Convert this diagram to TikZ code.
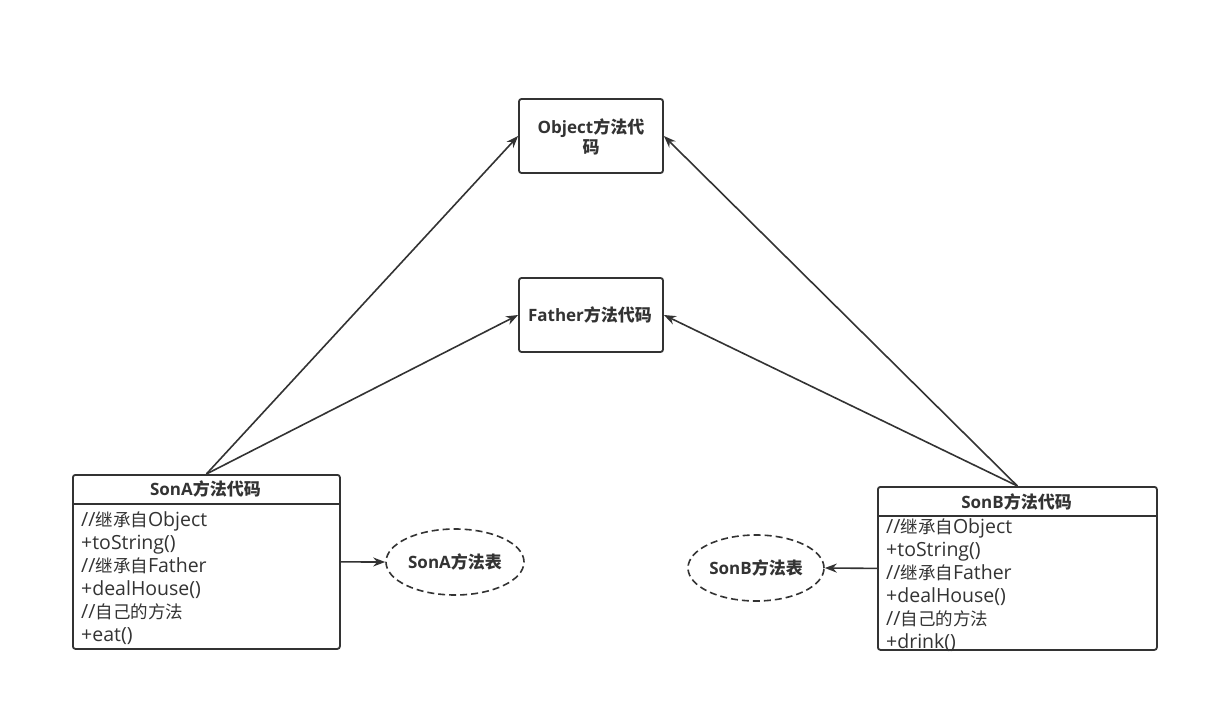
\documentclass[tikz,border=0pt]{standalone}
\usepackage{fontspec}
\setmainfont{Open Sans}
\newfontfamily\cjk{Noto Sans CJK SC}
\newcommand{\zh}[1]{{\cjk #1}}
\newcommand{\ze}[1]{{\cjk\fontsize{17.5}{20}\selectfont #1}}
\usetikzlibrary{arrows.meta,shapes.geometric}
\definecolor{ink}{HTML}{333333}
\begin{document}
\begin{tikzpicture}[x=1pt,y=-1pt,
  box/.style={draw=ink, line width=1.8pt, rounded corners=2.5pt, fill=white, inner sep=0pt},
  title/.style={text=ink, font=\fontsize{17}{20}\selectfont\bfseries, align=center, inner sep=0pt},
  entry/.style={text=ink, font=\fontsize{19.5}{20}\selectfont, anchor=west, inner sep=0pt, text height=13pt, text depth=5pt},
  oval/.style={draw=ink, line width=1.6pt, dash pattern=on 7pt off 4pt, ellipse, inner sep=0pt},
  arr/.style={draw=ink, line width=1.6pt, -{Stealth[length=12pt,width=9pt]}}
]
\useasboundingbox[fill=white] (0,0) rectangle (1217,711);

\node[box, minimum width=144pt, minimum height=74pt] (obj) at (591,136) {};
\node[title] (objt) at (591,137) {Object\zh{方法代}\\\zh{码}};
\node[box, minimum width=144pt, minimum height=74pt] (fat) at (591,315) {};
\node[title] (fatt) at (590,315) {Father\zh{方法代码}};

% SonA
\node[box, minimum width=267pt, minimum height=174pt, anchor=north west] (sona) at (72,474) {};
\draw[ink, line width=1.6pt] ([yshift=-30pt]sona.north west) -- ([yshift=-30pt]sona.north east);
\node[title] (sonat) at (205.5,489) {SonA\zh{方法代码}};
\node[entry] (a1) at (81,522) {//\ze{继承自}Object};
\node[entry] (a2) at (81,545) {+toString()};
\node[entry] (a3) at (81,568) {//\ze{继承自}Father};
\node[entry] (a4) at (81,591) {+dealHouse()};
\node[entry] (a5) at (81,614) {//\ze{自己的方法}};
\node[entry] (a6) at (81,637) {+eat()};

% SonB
\node[box, minimum width=279pt, minimum height=163pt, anchor=north west] (sonb) at (877,486) {};
\draw[ink, line width=1.6pt] ([yshift=-30pt]sonb.north west) -- ([yshift=-30pt]sonb.north east);
\node[title] (sonbt) at (1016.5,502) {SonB\zh{方法代码}};
\node[entry] (b1) at (886,529) {//\ze{继承自}Object};
\node[entry] (b2) at (886,552) {+toString()};
\node[entry] (b3) at (886,575) {//\ze{继承自}Father};
\node[entry] (b4) at (886,598) {+dealHouse()};
\node[entry] (b5) at (886,621) {//\ze{自己的方法}};
\node[entry] (b6) at (886,644) {+drink()};

% method tables
\node[oval, minimum width=138pt, minimum height=66pt] (ta) at (455,562) {};
\node[title] (tat) at (455,562) {SonA\zh{方法表}};
\node[oval, minimum width=136pt, minimum height=66pt] (tb) at (756,568) {};
\node[title] (tbt) at (756,568) {SonB\zh{方法表}};

% connectors
\draw[arr] (sona.north) -- (obj.west);
\draw[arr] (sona.north) -- (fat.west);
\draw[arr] (sonb.north) -- (obj.east);
\draw[arr] (sonb.north) -- (fat.east);
\draw[arr] (sona.east) -- (ta.west);
\draw[arr] (sonb.west) -- (tb.east);
\end{tikzpicture}
\end{document}
